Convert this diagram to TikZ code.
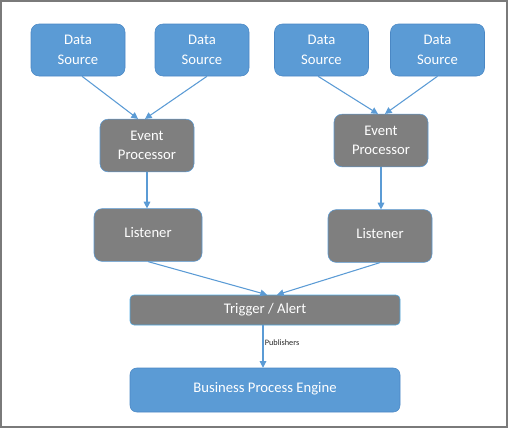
\documentclass[tikz,border=0pt]{standalone}
\usepackage{fontspec}
\setmainfont{Carlito}
\usepackage{xcolor}
\usetikzlibrary{arrows.meta,positioning}
\definecolor{srcblue}{HTML}{5B9BD5}
\definecolor{srcedge}{HTML}{4A87C4}
\definecolor{procgrey}{HTML}{7F7F7F}
\definecolor{framegrey}{HTML}{7A7A7A}

\begin{document}
\begin{tikzpicture}[x=0.75pt,y=-0.75pt,
sourcenode/.style={rectangle, rounded corners=6pt, draw=srcedge, fill=srcblue, text=white, minimum width=70.5pt, minimum height=39pt, align=center, font=\fontsize{11}{14.5}\selectfont},
procnode/.style={rectangle, rounded corners=6pt, draw=srcblue, fill=procgrey, text=white, minimum height=39.5pt, align=center, font=\fontsize{11}{14.5}\selectfont},
widenode/.style={rectangle, rounded corners=3pt, minimum width=202.5pt, text=white, font=\fontsize{11}{14}\selectfont},
flow/.style={-{Triangle[width=5pt,length=5pt]}, draw=srcblue, thick},
]
\useasboundingbox (0,0) rectangle (509,429);
\draw[framegrey, line width=1.5pt] (1,1) rectangle (507,427);

%Nodes
\node[sourcenode]    (source1) at (78,50)     {Data\\Source};
\node[sourcenode]    (source2) at (202,50)    {Data\\Source};
\node[sourcenode]    (source3) at (321.5,50)  {Data\\Source};
\node[sourcenode]    (source4) at (437.5,50)  {Data\\Source};
\node[procnode, minimum width=70.5pt] (processor1) at (147,145.5) {Event\\Processor};
\node[procnode, minimum width=70.5pt] (processor2) at (381,140.5) {Event\\Processor};
\node[procnode, minimum width=81pt]   (listener1)  at (148,235)   {\raisebox{4pt}{Listener}};
\node[procnode, minimum width=78pt]   (listener2)  at (380,236)   {\raisebox{4pt}{Listener}};
\node[widenode, draw={rgb,255:red,79;green,172;blue,230}, fill=procgrey, minimum height=22.5pt] (trigger) at (265,310) {Trigger / Alert};
\node[widenode, draw=srcedge, fill=srcblue, rounded corners=5pt, minimum height=33pt] (engine) at (265,390) {\raisebox{4pt}{Business Process Engine}};

%Lines
\draw[flow] ([xshift=3pt]source1.south)    -- ([xshift=-6.75pt]processor1.north);
\draw[flow] ([xshift=3.75pt]source2.south) -- ([xshift=-1.5pt]processor1.north);
\draw[flow] ([xshift=-2.6pt]source3.south) -- ([xshift=-2.25pt]processor2.north);
\draw[flow] (source4.south)                -- ([xshift=3pt]processor2.north);
\draw[flow] (processor1.south) -- (processor1.south |- listener1.north);
\draw[flow] (processor2.south) -- (processor2.south |- listener2.north);
\draw[flow] (listener1.south) -- ([xshift=1.5pt]trigger.north);
\draw[flow] (listener2.south) -- ([xshift=9pt]trigger.north);
\draw[flow] ([xshift=-1.5pt]trigger.south) -- node[right, pos=0.4, inner sep=1pt, text=black!85, font=\fontsize{6.2}{7}\selectfont] {Publishers} ([xshift=-1.5pt]engine.north);
\end{tikzpicture}
\end{document}
